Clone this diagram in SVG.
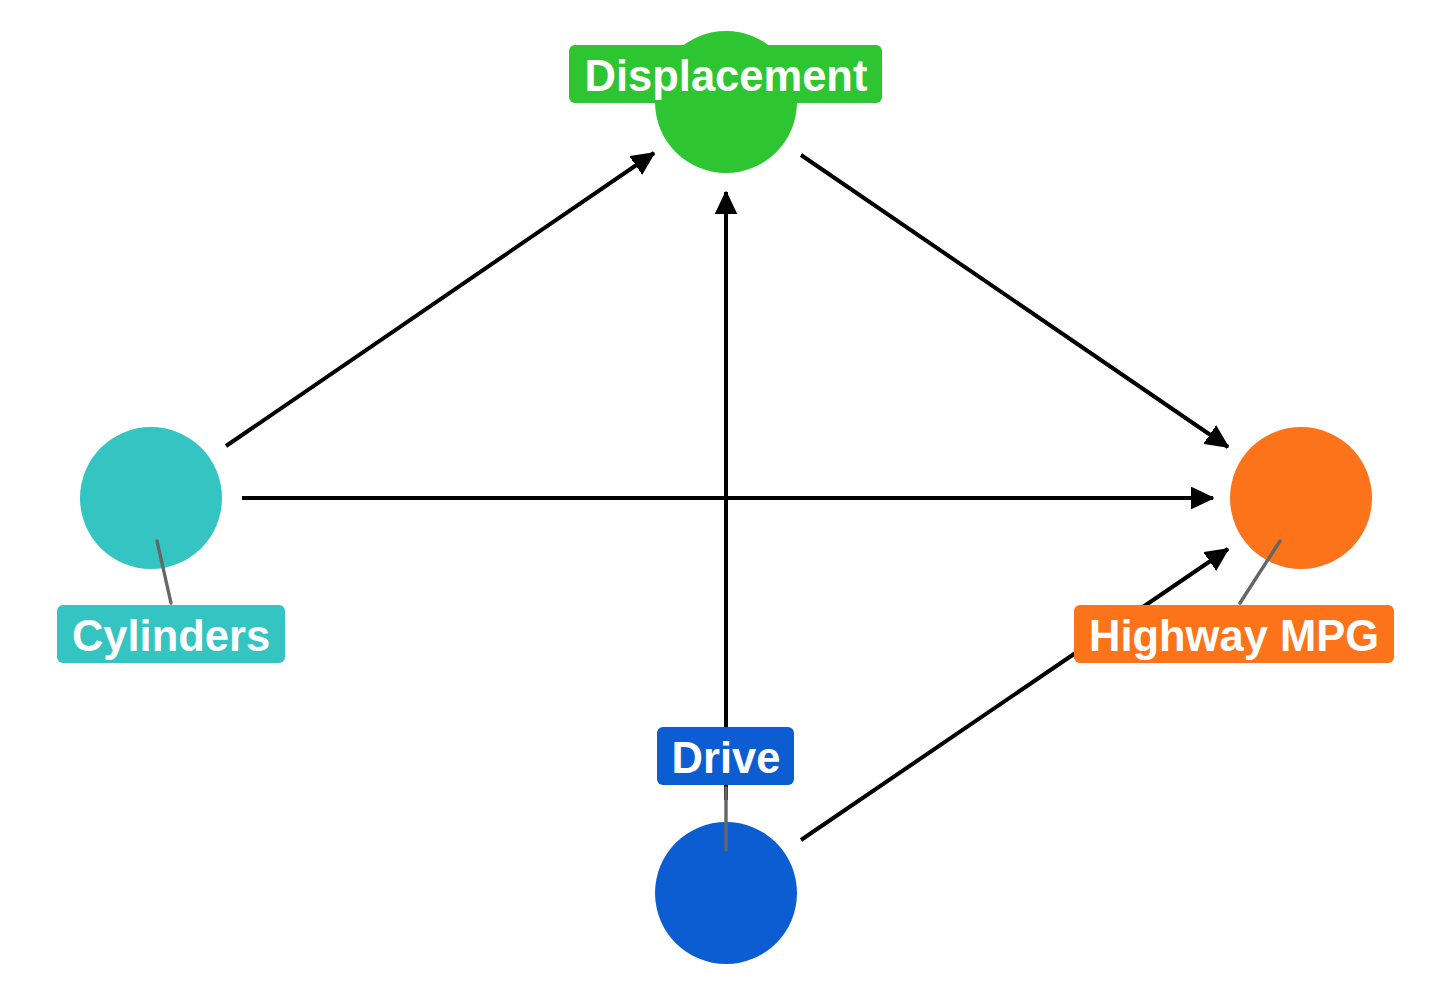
<svg xmlns="http://www.w3.org/2000/svg" width="1440" height="1008" viewBox="0 0 1440 1008">
<defs>
<style>
.edge{stroke:#000;stroke-width:4;fill:none;marker-end:url(#ah)}
.lead{stroke:#666;stroke-width:3.4;stroke-linecap:round}
.lbl{font-family:"Liberation Sans",Arial,Helvetica,sans-serif;font-weight:bold;font-size:43.5px;fill:#fff;text-anchor:middle}
</style>
<marker id="ah" markerUnits="userSpaceOnUse" markerWidth="26" markerHeight="26" refX="22" refY="12" orient="auto">
<path d="M0,1.5 L22,12 L0,22.5 Z" fill="#000" stroke="#000" stroke-width="1.5" stroke-linejoin="round"/>
</marker>
</defs>
<rect width="1440" height="1008" fill="#fff"/>
<g id="connectors">
<line class="edge" x1="226" y1="446" x2="654" y2="153"/>
<line class="edge" x1="242" y1="498" x2="1213" y2="498"/>
<line class="edge" x1="801" y1="155" x2="1228" y2="447"/>
<line class="edge" x1="726" y1="800" x2="726" y2="192"/>
<line class="edge" x1="801" y1="840" x2="1228" y2="549"/>
</g>
<g id="node-displacement">
<circle cx="726" cy="102" r="71" fill="#2EC532"/>
<rect x="569" y="45" width="313" height="58" rx="6" fill="#2EC532"/>
<text class="lbl" x="726" y="91">Displacement</text>
</g>
<g id="node-cylinders">
<circle cx="151" cy="498" r="71" fill="#34C4C1"/>
<line class="lead" x1="157" y1="541" x2="171" y2="603"/>
<rect x="57" y="605" width="228" height="58" rx="6" fill="#34C4C1"/>
<text class="lbl" x="171" y="651">Cylinders</text>
</g>
<g id="node-highway">
<circle cx="1301" cy="498" r="71" fill="#FC731A"/>
<line class="lead" x1="1280" y1="541" x2="1240" y2="603"/>
<rect x="1074" y="605" width="320" height="58" rx="6" fill="#FC731A"/>
<text class="lbl" x="1234" y="651">Highway MPG</text>
</g>
<g id="node-drive">
<circle cx="726" cy="893" r="71" fill="#0C5DD1"/>
<line class="lead" x1="726" y1="788" x2="726" y2="850"/>
<rect x="657" y="727" width="137" height="58" rx="6" fill="#0C5DD1"/>
<text class="lbl" x="726" y="773">Drive</text>
</g>
</svg>
